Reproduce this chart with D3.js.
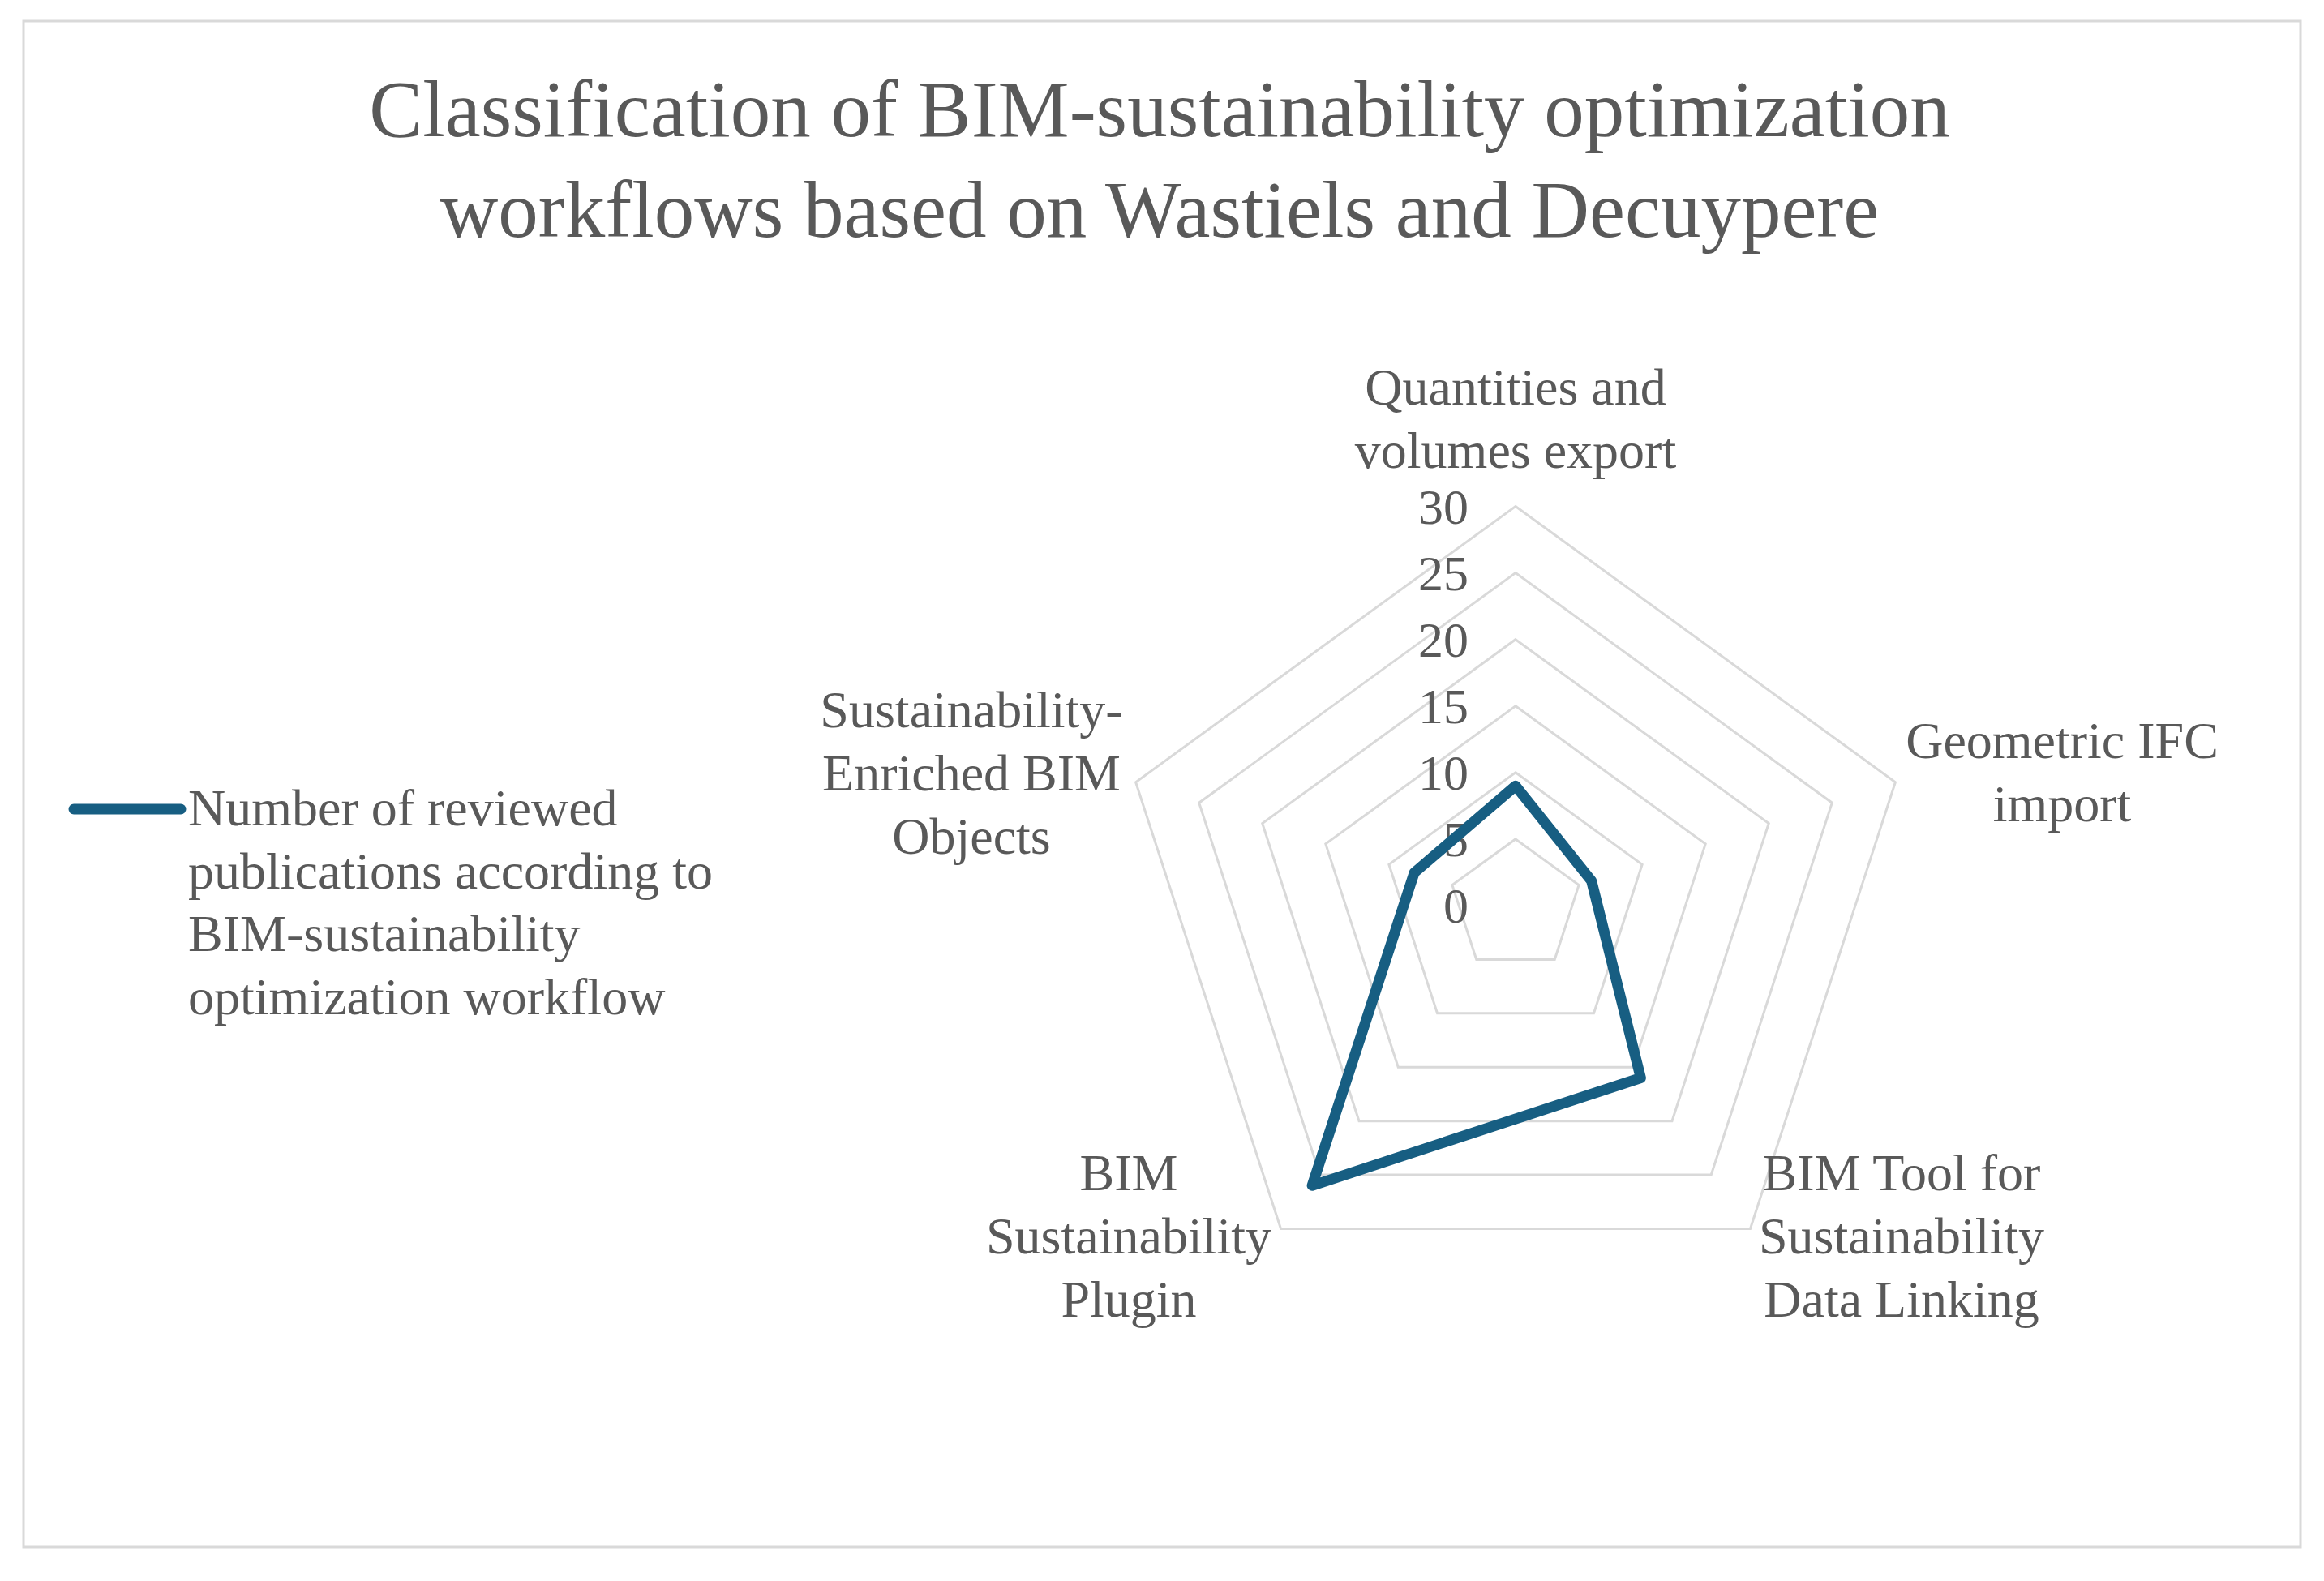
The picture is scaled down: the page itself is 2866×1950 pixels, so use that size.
<!DOCTYPE html>
<html>
<head>
<meta charset="utf-8">
<script src="https://cdn.jsdelivr.net/npm/d3@7"></script>
<style>
  html, body { margin: 0; padding: 0; background: #ffffff; }
  svg text { font-family: "Liberation Serif", "DejaVu Serif", serif; fill: #595959; }
</style>
</head>
<body>
<div class="plot"></div>
<script>
// chart data
let categories = [
  ["Quantities and", "volumes export"],
  ["Geometric IFC", "import"],
  ["BIM Tool for", "Sustainability", "Data Linking"],
  ["BIM", "Sustainability", "Plugin"],
  ["Sustainability-", "Enriched BIM", "Objects"]
];
let values = [9, 6, 16, 26, 8];
let ticks = [0, 5, 10, 15, 20, 25, 30];
let titleLines = [
  "Classification of BIM-sustainability optimization",
  "workflows based on Wastiels and Decuypere"
];
let legendLines = [
  "Number of reviewed",
  "publications according to",
  "BIM-sustainability",
  "optimization workflow"
];

let width = 2866, height = 1950;
let cx = 1869, cy = 1117, radius = 492.5;
let lineColor = "#175e82", gridColor = "#d9d9d9";
let labelSize = 64, tickSize = 62, lineGap = 78;

var svg = d3.select(".plot")
    .append("svg")
    .attr("width", width)
    .attr("height", height);

// outer frame
svg.append("rect")
    .attr("x", 29).attr("y", 26)
    .attr("width", 2808).attr("height", 1882)
    .attr("fill", "#ffffff")
    .attr("stroke", gridColor)
    .attr("stroke-width", 3);

// title
svg.append("g")
    .selectAll("text")
    .data(titleLines)
    .enter().append("text")
    .attr("x", 1430)
    .attr("y", (d, i) => 168 + i * 124)
    .attr("text-anchor", "middle")
    .attr("font-size", 99)
    .text(d => d);

var rScale = d3.scaleLinear().domain([0, 30]).range([0, radius]);
var angle = d3.scaleLinear().domain([0, categories.length]).range([0, 2 * Math.PI]);

var chart = svg.append("g")
    .attr("transform", "translate(" + cx + "," + cy + ")");

// grid rings
var ring = d3.lineRadial()
    .angle((d, i) => angle(i))
    .radius(d => rScale(d))
    .curve(d3.curveLinearClosed);

chart.append("g")
    .selectAll("path")
    .data(ticks)
    .enter().append("path")
    .attr("d", t => ring(categories.map(() => t)))
    .attr("fill", "none")
    .attr("stroke", gridColor)
    .attr("stroke-width", 3);

// tick labels along the top spoke
chart.append("g")
    .selectAll("text")
    .data(ticks)
    .enter().append("text")
    .attr("x", -58)
    .attr("y", t => -rScale(t) + 21)
    .attr("text-anchor", "end")
    .attr("font-size", tickSize)
    .text(t => t);

// series
chart.append("path")
    .datum(values)
    .attr("d", ring)
    .attr("fill", "none")
    .attr("stroke", lineColor)
    .attr("stroke-width", 13)
    .attr("stroke-linejoin", "round");

// category labels, first baseline of each block
let labelPos = [
  [0, 499],
  [674, 935],
  [476, 1468],
  [-477, 1468],
  [-671, 897]
];

categories.forEach((lines, i) => {
    chart.append("text")
        .attr("text-anchor", "middle")
        .attr("font-size", labelSize)
        .selectAll("tspan")
        .data(lines)
        .enter().append("tspan")
        .attr("x", labelPos[i][0])
        .attr("y", (d, j) => labelPos[i][1] - cy + j * lineGap)
        .text(d => d);
});

// legend
svg.append("line")
    .attr("x1", 91).attr("x2", 223)
    .attr("y1", 998).attr("y2", 998)
    .attr("stroke", lineColor)
    .attr("stroke-width", 13)
    .attr("stroke-linecap", "round");

svg.append("g")
    .selectAll("text")
    .data(legendLines)
    .enter().append("text")
    .attr("x", 232)
    .attr("y", (d, i) => 1018 + i * 77.5)
    .attr("font-size", labelSize)
    .text(d => d);
</script>
</body>
</html>
